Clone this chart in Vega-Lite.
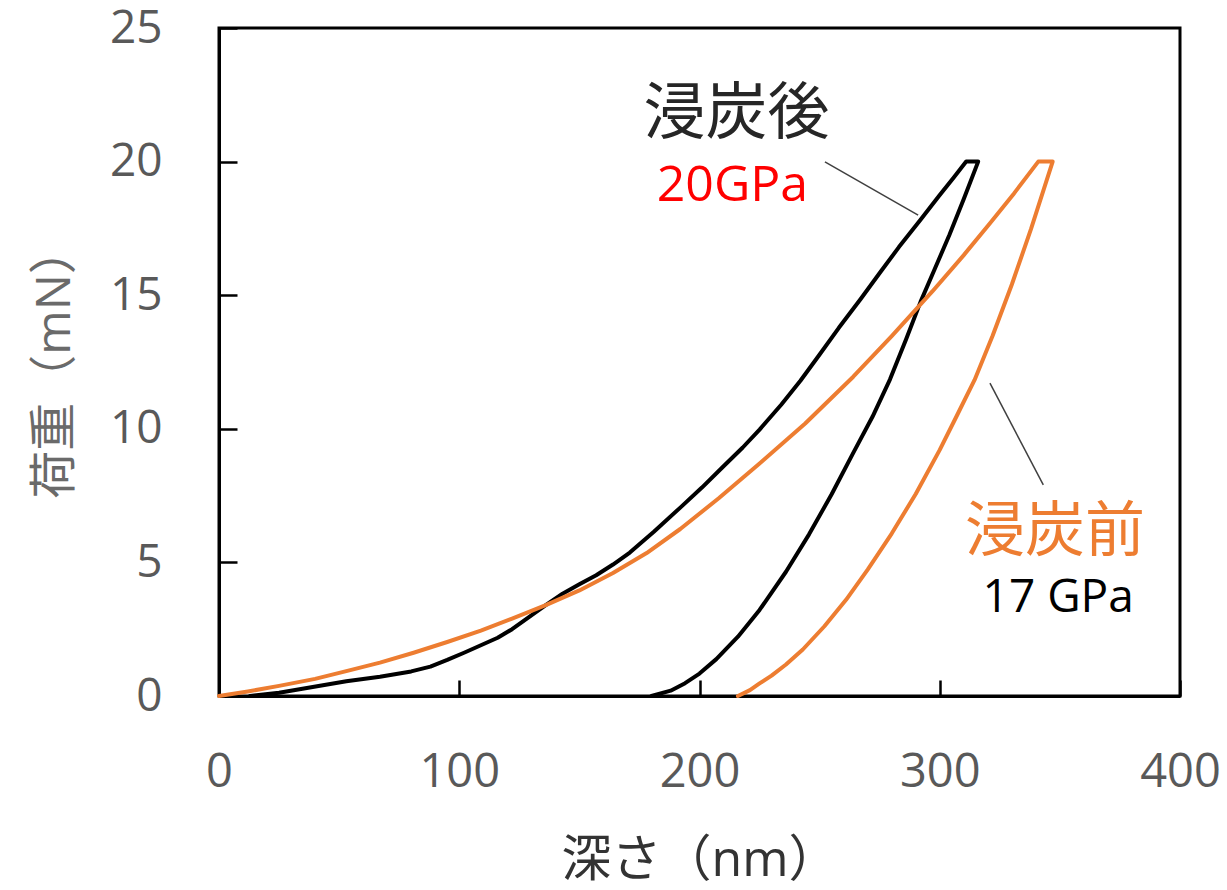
{
  "$schema": "https://vega.github.io/schema/vega-lite/v6.json",
  "width": 961,
  "height": 668,
  "autosize": {"type": "none"},
  "padding": {"left": 219, "top": 28, "right": 47, "bottom": 194},
  "background": "white",
  "config": {
    "view": {"stroke": "#000000", "strokeWidth": 3},
    "font": "Open Sans, Noto Sans CJK JP"
  },
  "encoding": {
    "x": {
      "field": "d",
      "type": "quantitative",
      "scale": {"domain": [0, 400], "nice": false},
      "axis": {
        "values": [0, 100, 200, 300, 400],
        "title": "深さ（nm）",
        "grid": false,
        "domainColor": "#000000",
        "domainWidth": 3,
        "tickColor": "#000000",
        "tickWidth": 2.5,
        "tickSize": -16,
        "labelFontSize": 47,
        "labelColor": "#595959",
        "labelPadding": 69,
        "labelFont": "Open Sans",
        "labelFlush": false,
        "labelOverlap": false,
        "titleFont": "Open Sans, Noto Sans CJK JP",
        "titleFontSize": 50,
        "titleColor": "#333333",
        "titleFontWeight": "normal",
        "titlePadding": 40
      }
    },
    "y": {
      "field": "f",
      "type": "quantitative",
      "scale": {"domain": [0, 25], "nice": false},
      "axis": {
        "values": [0, 5, 10, 15, 20, 25],
        "title": "荷重（mN）",
        "grid": false,
        "domainColor": "#000000",
        "domainWidth": 3,
        "tickColor": "#000000",
        "tickWidth": 2.5,
        "tickSize": -18,
        "labelFontSize": 46,
        "labelColor": "#595959",
        "labelPadding": 75,
        "labelFont": "Open Sans",
        "labelFlush": false,
        "labelOverlap": false,
        "titleFont": "Open Sans, Noto Sans CJK JP",
        "titleFontSize": 48,
        "titleColor": "#6a6a6a",
        "titleFontWeight": "normal",
        "titlePadding": 30
      }
    }
  },
  "layer": [
    {
      "data": {
        "values": [
          {"s": "浸炭後", "i": 1, "d": 12.9, "f": 0},
          {"s": "浸炭後", "i": 2, "d": 25, "f": 0.12},
          {"s": "浸炭後", "i": 3, "d": 39, "f": 0.34},
          {"s": "浸炭後", "i": 4, "d": 53, "f": 0.55},
          {"s": "浸炭後", "i": 5, "d": 67, "f": 0.72},
          {"s": "浸炭後", "i": 6, "d": 80, "f": 0.92},
          {"s": "浸炭後", "i": 7, "d": 88, "f": 1.1},
          {"s": "浸炭後", "i": 8, "d": 95, "f": 1.35},
          {"s": "浸炭後", "i": 9, "d": 102, "f": 1.62},
          {"s": "浸炭後", "i": 10, "d": 109, "f": 1.9},
          {"s": "浸炭後", "i": 11, "d": 116, "f": 2.18},
          {"s": "浸炭後", "i": 12, "d": 122, "f": 2.5},
          {"s": "浸炭後", "i": 13, "d": 129, "f": 2.95},
          {"s": "浸炭後", "i": 14, "d": 136, "f": 3.4},
          {"s": "浸炭後", "i": 15, "d": 143, "f": 3.83},
          {"s": "浸炭後", "i": 16, "d": 150, "f": 4.18},
          {"s": "浸炭後", "i": 17, "d": 157, "f": 4.52},
          {"s": "浸炭後", "i": 18, "d": 164, "f": 4.92},
          {"s": "浸炭後", "i": 19, "d": 171, "f": 5.37},
          {"s": "浸炭後", "i": 20, "d": 181, "f": 6.15},
          {"s": "浸炭後", "i": 21, "d": 192, "f": 7.05},
          {"s": "浸炭後", "i": 22, "d": 201, "f": 7.8},
          {"s": "浸炭後", "i": 23, "d": 210, "f": 8.6},
          {"s": "浸炭後", "i": 24, "d": 218, "f": 9.3},
          {"s": "浸炭後", "i": 25, "d": 225, "f": 9.97},
          {"s": "浸炭後", "i": 26, "d": 234, "f": 10.9},
          {"s": "浸炭後", "i": 27, "d": 242, "f": 11.8},
          {"s": "浸炭後", "i": 28, "d": 250, "f": 12.78},
          {"s": "浸炭後", "i": 29, "d": 258, "f": 13.78},
          {"s": "浸炭後", "i": 30, "d": 267, "f": 14.85},
          {"s": "浸炭後", "i": 31, "d": 275, "f": 15.83},
          {"s": "浸炭後", "i": 32, "d": 283, "f": 16.8},
          {"s": "浸炭後", "i": 33, "d": 292, "f": 17.82},
          {"s": "浸炭後", "i": 34, "d": 300, "f": 18.75},
          {"s": "浸炭後", "i": 35, "d": 306, "f": 19.42},
          {"s": "浸炭後", "i": 36, "d": 311, "f": 20.0},
          {"s": "浸炭後", "i": 37, "d": 316, "f": 20.0},
          {"s": "浸炭後", "i": 38, "d": 310, "f": 18.6},
          {"s": "浸炭後", "i": 39, "d": 304, "f": 17.25},
          {"s": "浸炭後", "i": 40, "d": 298, "f": 16.0},
          {"s": "浸炭後", "i": 41, "d": 292, "f": 14.75},
          {"s": "浸炭後", "i": 42, "d": 286, "f": 13.35},
          {"s": "浸炭後", "i": 43, "d": 279.3, "f": 11.85},
          {"s": "浸炭後", "i": 44, "d": 272, "f": 10.45},
          {"s": "浸炭後", "i": 45, "d": 264, "f": 9.1},
          {"s": "浸炭後", "i": 46, "d": 255, "f": 7.55},
          {"s": "浸炭後", "i": 47, "d": 245.6, "f": 6.05},
          {"s": "浸炭後", "i": 48, "d": 236, "f": 4.65},
          {"s": "浸炭後", "i": 49, "d": 225, "f": 3.22},
          {"s": "浸炭後", "i": 50, "d": 216, "f": 2.22},
          {"s": "浸炭後", "i": 51, "d": 207, "f": 1.38},
          {"s": "浸炭後", "i": 52, "d": 200, "f": 0.84},
          {"s": "浸炭後", "i": 53, "d": 194, "f": 0.48},
          {"s": "浸炭後", "i": 54, "d": 188, "f": 0.2},
          {"s": "浸炭後", "i": 55, "d": 180, "f": 0},
          {"s": "浸炭前", "i": 1, "d": 0, "f": 0},
          {"s": "浸炭前", "i": 2, "d": 12, "f": 0.17},
          {"s": "浸炭前", "i": 3, "d": 25, "f": 0.38},
          {"s": "浸炭前", "i": 4, "d": 40, "f": 0.64},
          {"s": "浸炭前", "i": 5, "d": 53, "f": 0.93},
          {"s": "浸炭前", "i": 6, "d": 67, "f": 1.25},
          {"s": "浸炭前", "i": 7, "d": 81, "f": 1.62},
          {"s": "浸炭前", "i": 8, "d": 95, "f": 2.02},
          {"s": "浸炭前", "i": 9, "d": 109, "f": 2.45},
          {"s": "浸炭前", "i": 10, "d": 122, "f": 2.9},
          {"s": "浸炭前", "i": 11, "d": 136, "f": 3.4},
          {"s": "浸炭前", "i": 12, "d": 150, "f": 3.95},
          {"s": "浸炭前", "i": 13, "d": 164, "f": 4.6},
          {"s": "浸炭前", "i": 14, "d": 178, "f": 5.35},
          {"s": "浸炭前", "i": 15, "d": 192, "f": 6.25},
          {"s": "浸炭前", "i": 16, "d": 208, "f": 7.4},
          {"s": "浸炭前", "i": 17, "d": 225, "f": 8.7},
          {"s": "浸炭前", "i": 18, "d": 244, "f": 10.2},
          {"s": "浸炭前", "i": 19, "d": 264, "f": 11.95},
          {"s": "浸炭前", "i": 20, "d": 280, "f": 13.47},
          {"s": "浸炭前", "i": 21, "d": 297, "f": 15.15},
          {"s": "浸炭前", "i": 22, "d": 310, "f": 16.5},
          {"s": "浸炭前", "i": 23, "d": 321, "f": 17.7},
          {"s": "浸炭前", "i": 24, "d": 331, "f": 18.82},
          {"s": "浸炭前", "i": 25, "d": 341, "f": 20.0},
          {"s": "浸炭前", "i": 26, "d": 347, "f": 20.0},
          {"s": "浸炭前", "i": 27, "d": 338, "f": 17.48},
          {"s": "浸炭前", "i": 28, "d": 330, "f": 15.4},
          {"s": "浸炭前", "i": 29, "d": 322, "f": 13.48},
          {"s": "浸炭前", "i": 30, "d": 314.5, "f": 11.83},
          {"s": "浸炭前", "i": 31, "d": 307, "f": 10.47},
          {"s": "浸炭前", "i": 32, "d": 300, "f": 9.21},
          {"s": "浸炭前", "i": 33, "d": 290, "f": 7.56},
          {"s": "浸炭前", "i": 34, "d": 280, "f": 6.08},
          {"s": "浸炭前", "i": 35, "d": 270, "f": 4.73},
          {"s": "浸炭前", "i": 36, "d": 261, "f": 3.6},
          {"s": "浸炭前", "i": 37, "d": 252, "f": 2.61},
          {"s": "浸炭前", "i": 38, "d": 243, "f": 1.74},
          {"s": "浸炭前", "i": 39, "d": 236, "f": 1.18},
          {"s": "浸炭前", "i": 40, "d": 230, "f": 0.76},
          {"s": "浸炭前", "i": 41, "d": 225, "f": 0.47},
          {"s": "浸炭前", "i": 42, "d": 221, "f": 0.22},
          {"s": "浸炭前", "i": 43, "d": 216, "f": 0}
        ]
      },
      "mark": {"type": "line", "strokeWidth": 4, "strokeJoin": "round", "strokeCap": "round"},
      "encoding": {
        "color": {
          "field": "s",
          "type": "nominal",
          "scale": {"domain": ["浸炭後", "浸炭前"], "range": ["#000000", "#ED7D31"]},
          "legend": null
        },
        "order": {"field": "i", "type": "quantitative"}
      }
    },
    {
      "data": {
        "values": [
          {"d": 252.2, "f": 19.99, "d2": 291.0, "f2": 18.0},
          {"d": 320.9, "f": 11.71, "d2": 343.1, "f2": 7.9}
        ]
      },
      "mark": {"type": "rule", "color": "#404040", "strokeWidth": 1.5},
      "encoding": {
        "x2": {"field": "d2"},
        "y2": {"field": "f2"}
      }
    },
    {
      "data": {"values": [{"label": "浸炭後", "d": 215.4, "f": 21.74}]},
      "mark": {"type": "text", "font": "Noto Sans CJK JP", "fontSize": 62, "color": "#262626", "align": "center", "baseline": "middle"},
      "encoding": {"text": {"field": "label"}}
    },
    {
      "data": {"values": [{"label": "20GPa", "d": 213.7, "f": 19.07}]},
      "mark": {"type": "text", "font": "Open Sans", "fontSize": 50, "color": "#FF0000", "align": "center", "baseline": "middle"},
      "encoding": {"text": {"field": "label"}}
    },
    {
      "data": {"values": [{"label": "浸炭前", "d": 348, "f": 6.1}]},
      "mark": {"type": "text", "font": "Noto Sans CJK JP", "fontSize": 60, "color": "#ED7D31", "align": "center", "baseline": "middle"},
      "encoding": {"text": {"field": "label"}}
    },
    {
      "data": {"values": [{"label": "17 GPa", "d": 349.3, "f": 3.68}]},
      "mark": {"type": "text", "font": "Open Sans", "fontSize": 46, "color": "#000000", "align": "center", "baseline": "middle"},
      "encoding": {"text": {"field": "label"}}
    }
  ]
}
